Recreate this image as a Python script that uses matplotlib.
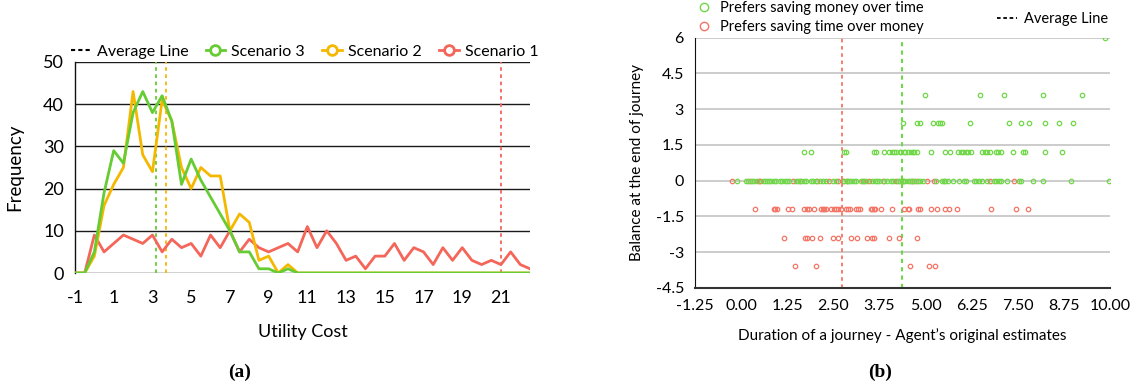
import numpy as np
import matplotlib
matplotlib.use("Agg")
import matplotlib.pyplot as plt
from matplotlib.lines import Line2D

plt.rcParams['font.family'] = ['Lato', 'DejaVu Sans']
plt.rcParams['axes.unicode_minus'] = False

# ---------------- data: left panel ----------------
utility_cost = np.arange(-1, 23, 0.5)
scenario3 = [0, 0, 5, 19, 29, 26, 38, 43, 38, 42, 36, 21, 27, 22, 18, 14, 10, 5, 5, 1,
             1, 0, 1, 0] + [0] * 24
scenario2 = [0, 0, 4, 16, 21, 25, 43, 28, 24, 41, 36, 25, 20, 25, 23, 23, 10, 14, 12, 3,
             4, 0, 2, 0] + [0] * 24
scenario1 = [0, 0, 9, 5, 7, 9, 8, 7, 9, 5, 8, 6, 7, 4, 9, 6, 10, 5, 8, 6,
             5, 6, 7, 5, 11, 6, 10, 7, 3, 4, 1, 4, 4, 7, 3, 6, 5, 2, 6, 3,
             6, 3, 2, 3, 2, 5, 2, 1]
avg3, avg2, avg1 = 3.2, 3.7, 21.0
left_xticks = [-1, 1, 3, 5, 7, 9, 11, 13, 15, 17, 19, 21]
left_yticks = [0, 10, 20, 30, 40, 50]

# ---------------- data: right panel ----------------
money_x_6 = [9.87]
money_x_36 = [4.98, 6.48, 7.13, 8.18, 9.23]
money_x_24 = [4.38, 4.77, 4.84, 5.21, 5.34, 5.39, 5.44, 6.20, 7.25, 7.58, 7.81, 8.25, 8.61, 9.00]
money_x_12 = [1.71, 1.90, 2.80, 2.85, 3.60, 3.66, 3.87, 4.01, 4.08, 4.14, 4.21, 4.30, 4.34,
              4.41, 4.44, 4.52, 4.60, 4.65, 4.69, 4.77, 5.16, 5.52, 5.66, 5.89, 5.95, 6.02,
              6.09, 6.15, 6.22, 6.54, 6.60, 6.67, 6.74, 6.90, 6.97, 7.04, 7.37, 7.63, 7.69,
              8.24, 8.70]
money_x_0 = [-0.10, 0.12, 0.18, 0.30, 0.36, 0.42, 0.58, 0.64, 0.70, 0.76, 0.82, 0.88, 0.94,
             1.05, 1.12, 1.18, 1.24, 1.30, 1.48, 1.55, 1.62, 1.70, 1.75, 1.90, 1.96, 2.02,
             2.15, 2.22, 2.30, 2.50, 2.57, 2.78, 2.86, 2.92, 2.98, 3.05, 3.12, 3.25, 3.32,
             3.38, 3.55, 3.62, 3.68, 3.75, 3.88, 3.95, 4.05, 4.12, 4.25, 4.32, 4.38, 4.45,
             4.52, 4.58, 4.64, 4.70, 4.79, 4.86, 4.93, 5.27, 5.45, 5.50, 5.54, 5.60, 5.75,
             5.90, 6.04, 6.09, 6.31, 6.38, 6.45, 6.54, 6.67, 6.85, 6.92, 6.99, 7.05, 7.20,
             7.53, 7.60, 7.92, 8.19, 8.94, 9.98]
time_x_0 = [-0.25, 0.25, 0.48, 0.52, 1.40, 1.60, 2.05, 2.38, 2.62, 2.75, 2.88, 3.30, 3.48,
            3.85, 4.20, 4.40, 4.62, 4.75, 5.04, 5.22, 6.76, 7.40]
time_x_m12 = [0.39, 0.88, 0.93, 0.97, 1.27, 1.39, 1.71, 1.78, 1.83, 1.97, 2.17, 2.21, 2.26,
              2.31, 2.45, 2.51, 2.58, 2.64, 2.72, 2.83, 2.89, 2.94, 3.12, 3.17, 3.23, 3.51,
              3.56, 3.60, 3.64, 3.80, 4.08, 4.41, 4.52, 4.55, 4.80, 4.85, 5.14, 5.32, 5.54,
              5.63, 5.84, 6.77, 7.46, 7.79]
time_x_m24 = [1.15, 1.74, 1.78, 1.92, 2.13, 2.49, 2.64, 2.99, 3.15, 3.40, 3.55, 3.60, 4.02,
              4.27, 4.77]
time_x_m36 = [1.46, 2.04, 4.57, 5.09, 5.25]
money_avg, time_avg = 4.35, 2.74
right_xticks = [-1.25, 0.00, 1.25, 2.50, 3.75, 5.00, 6.25, 7.50, 8.75, 10.00]
right_yticks = [-4.5, -3, -1.5, 0, 1.5, 3, 4.5, 6]

GREEN = '#66cc33'
YELLOW = '#f5b800'
RED = '#f4665a'
SG = '#70d848'
SR = '#f47565'

fig = plt.figure(figsize=(11.35, 3.87), dpi=100)

# ---------------- left panel ----------------
ax1 = fig.add_axes([75 / 1135, 1 - 273 / 387, 455 / 1135, 211 / 387])
for yv in left_yticks:
    ax1.axhline(yv, color='#1a1a1a', lw=1.0, zorder=0)
ax1.plot(utility_cost, scenario1, color=RED, lw=2.0, zorder=3)
ax1.plot(utility_cost, scenario2, color=YELLOW, lw=2.0, zorder=4)
ax1.plot(utility_cost, scenario3, color=GREEN, lw=2.0, zorder=5)
ax1.axvline(avg3, color=GREEN, lw=1.3, ls=(0, (2, 2)), zorder=2)
ax1.axvline(avg2, color=YELLOW, lw=1.3, ls=(0, (2, 2)), zorder=2)
ax1.axvline(avg1, color=RED, lw=1.3, ls=(0, (2, 2)), zorder=2)
ax1.set_xlim(-1, 22.5)
ax1.set_ylim(0, 50)
ax1.set_xticks(left_xticks)
ax1.set_yticks(left_yticks)
ax1.tick_params(axis='x', length=0, labelsize=13, pad=12)
ax1.tick_params(axis='y', length=0, labelsize=13, pad=8)
for s in ['top', 'right', 'bottom']:
    ax1.spines[s].set_visible(False)
ax1.spines['left'].set_color('#111111')
ax1.spines['left'].set_linewidth(1.0)
ax1.set_xlabel('Utility Cost', fontsize=13, labelpad=13)
ax1.set_ylabel('Frequency', fontsize=13.5, labelpad=14)
h_left = [
    Line2D([], [], color='black', lw=1.5, ls=(0, (2, 1.5))),
    Line2D([], [], color=GREEN, lw=2, marker='o', mfc='white', mec=GREEN, ms=7, mew=2),
    Line2D([], [], color=YELLOW, lw=2, marker='o', mfc='white', mec=YELLOW, ms=7, mew=2),
    Line2D([], [], color=RED, lw=2, marker='o', mfc='white', mec=RED, ms=7, mew=2),
]
ax1.legend(h_left, ['Average Line', 'Scenario 3', 'Scenario 2', 'Scenario 1'],
           loc='lower center', bbox_to_anchor=(0.505, 1.0), ncol=4, frameon=False,
           fontsize=11.5, handlelength=1.2, handletextpad=0.4, columnspacing=1.1,
           borderaxespad=0.1, borderpad=0.1)

# ---------------- right panel ----------------
ax2 = fig.add_axes([695 / 1135, 1 - 287.8 / 387, 415 / 1135, 250.1 / 387])
for yv in right_yticks[1:]:
    ax2.axhline(yv, color='#c4c4c4', lw=1.2, zorder=0)
mk = dict(marker='o', mfc='none', ms=3.2, mew=0.9, ls='none', zorder=3)
rows_money = [(money_x_0, 0), (money_x_12, 1.2), (money_x_24, 2.4), (money_x_36, 3.6), (money_x_6, 6)]
rows_time = [(time_x_0, 0), (time_x_m12, -1.2), (time_x_m24, -2.4), (time_x_m36, -3.6)]
for xs, yv in rows_time:
    ax2.plot(xs, [yv] * len(xs), mec=SR, **mk)
for xs, yv in rows_money:
    ax2.plot(xs, [yv] * len(xs), mec=SG, **mk)
ax2.axvline(time_avg, color=SR, lw=1.3, ls=(0, (2, 2)), zorder=2)
ax2.axvline(money_avg, color=SG, lw=1.5, ls=(0, (2, 2)), zorder=2)
ax2.set_xlim(-1.25, 10)
ax2.set_ylim(-4.5, 6)
ax2.set_xticks(right_xticks)
ax2.set_xticklabels([f'{v:.2f}' for v in right_xticks])
ax2.set_yticks(right_yticks)
ax2.set_yticklabels(['-4.5', '-3', '-1.5', '0', '1.5', '3', '4.5', '6'])
ax2.tick_params(length=0, labelsize=11.5, pad=8)
for s in ['top', 'right']:
    ax2.spines[s].set_visible(False)
ax2.spines['left'].set_color('#111111')
ax2.spines['bottom'].set_color('#333333')
ax2.spines['bottom'].set_linewidth(1.5)
ax2.set_xlabel("Duration of a journey - Agent\u2019s original estimates", fontsize=11, labelpad=11)
ax2.set_ylabel('Balance at the end of journey', fontsize=11, labelpad=8)
h_r = [
    Line2D([], [], marker='o', ls='none', mfc='none', mec=SG, ms=6, mew=1),
    Line2D([], [], marker='o', ls='none', mfc='none', mec=SR, ms=6, mew=1),
]
leg_r = ax2.legend(h_r, ['Prefers saving money over time', 'Prefers saving time over money'],
                   loc='lower left', bbox_to_anchor=(0.0, 1.01), frameon=False, fontsize=10.5,
                   handlelength=1.0, handletextpad=0.6, labelspacing=0.3,
                   borderaxespad=0.0, borderpad=0.1)
ax2.add_artist(leg_r)
ax2.legend([Line2D([], [], color='black', lw=1.3, ls=(0, (2, 1.5)))], ['Average Line'],
           loc='lower right', bbox_to_anchor=(1.0, 1.04), frameon=False, fontsize=10.5,
           handlelength=1.4, handletextpad=0.5, borderaxespad=0.0, borderpad=0.1)

# ---------------- captions ----------------
fig.text(240 / 1135, 1 - 372 / 387, '(a)', ha='center', va='center', fontsize=14,
         fontweight='bold', family='Liberation Serif')
fig.text(880 / 1135, 1 - 372 / 387, '(b)', ha='center', va='center', fontsize=14,
         fontweight='bold', family='Liberation Serif')

fig.savefig('out.png', dpi=100)
